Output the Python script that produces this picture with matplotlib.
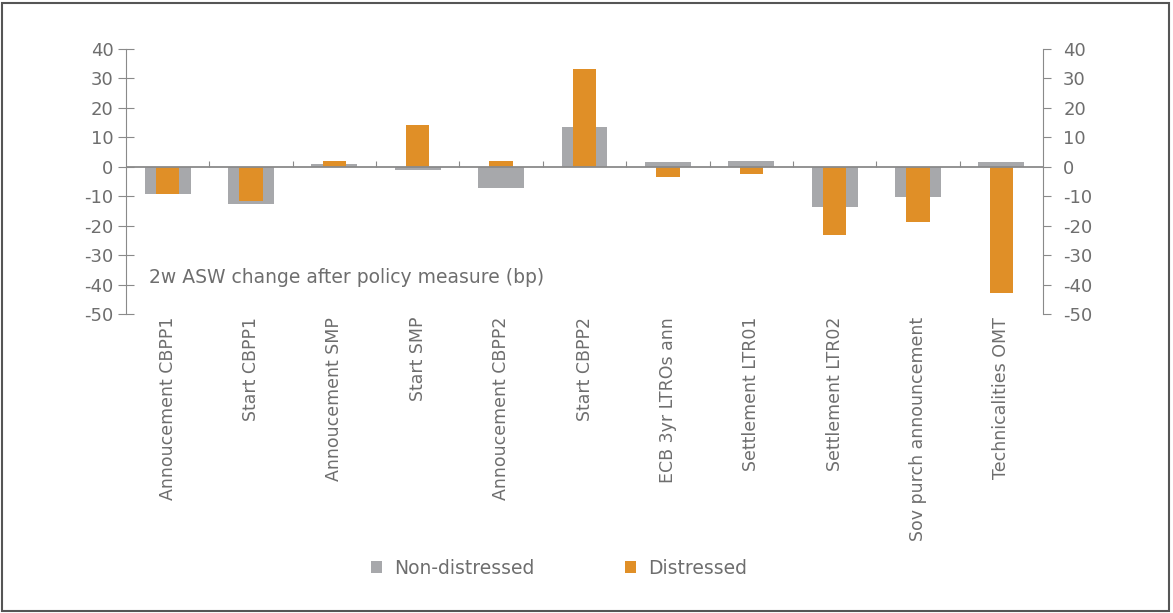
import matplotlib
matplotlib.use("Agg")
import matplotlib.pyplot as plt
from matplotlib.patches import Rectangle
import numpy as np

# policy events and 2w ASW changes (bp)
events = ['Annoucement CBPP1', 'Start CBPP1', 'Annoucement SMP', 'Start SMP',
          'Annoucement CBPP2', 'Start CBPP2', 'ECB 3yr LTROs ann', 'Settlement LTR01',
          'Settlement LTR02', 'Sov purch announcement', 'Technicalities OMT']
non_distressed = [-9.3, -12.6, 0.8, -1.0, -7.1, 13.5, 1.5, 1.8, -13.8, -10.3, 1.6]
distressed = [-9.2, -11.5, 1.9, 14.3, 1.8, 33.3, -3.4, -2.5, -23.1, -18.8, -42.8]

grey = '#a7a8ab'
orange = '#e08f27'
txt = '#6e6e6e'
axc = '#8a8a8a'

plt.rcParams['font.family'] = 'DejaVu Sans'
plt.rcParams['axes.unicode_minus'] = False

fig = plt.figure(figsize=(11.73, 6.13), dpi=100)
ax = fig.add_axes([0.1074, 0.4878, 0.7818, 0.4323])

x = np.arange(len(events))
ax.bar(x, non_distressed, width=0.55, color=grey, label='Non-distressed', zorder=2)
ax.bar(x, distressed, width=0.28, color=orange, label='Distressed', zorder=3)

ax.set_xlim(-0.5, len(events) - 0.5)
ax.set_ylim(-50, 40)
ax.set_yticks(np.arange(-50, 41, 10))

# category labels at the bottom, no ticks there
ax.set_xticks(x)
ax.set_xticklabels(events, rotation=90, color=txt, fontsize=12.5)
ax.tick_params(axis='x', length=0, pad=2)
ax.tick_params(axis='y', direction='inout', length=12, color=axc, labelcolor=txt,
               labelsize=13, pad=3)

for s in ['top', 'right', 'bottom']:
    ax.spines[s].set_visible(False)
ax.spines['left'].set_color(axc)

# zero line with boundary ticks
ax.axhline(0, color=axc, lw=1.3, zorder=4)
zero = ax.secondary_xaxis(50 / 90)
zero.set_xticks(np.arange(0.5, len(events) - 0.5, 1))
zero.tick_params(direction='out', length=4.5, color=axc, labelbottom=False, labeltop=False)
zero.spines['bottom'].set_visible(False)
zero.spines['top'].set_visible(False)

# mirrored scale on the right
ax2 = ax.twinx()
ax2.set_ylim(-50, 40)
ax2.set_yticks(np.arange(-50, 41, 10))
ax2.tick_params(axis='y', direction='out', length=5.5, color=axc, labelcolor=txt,
                labelsize=13, pad=9)
for s in ['top', 'left', 'bottom']:
    ax2.spines[s].set_visible(False)
ax2.spines['right'].set_color(axc)

ax.text(-0.22, -37.5, '2w ASW change after policy measure (bp)', color=txt,
        va='center', ha='left', fontsize=13.5)

fig.legend(loc='center', bbox_to_anchor=(0.4765, 0.0734), ncol=2, frameon=False,
           handlelength=0.6, handleheight=0.6, columnspacing=4.85, handletextpad=0.62,
           labelcolor=txt, fontsize=13.5)

fig.patches.append(Rectangle((0.002, 0.003), 0.995, 0.992, transform=fig.transFigure,
                             fill=False, edgecolor='#555555', lw=1.5))

fig.savefig('out.png', dpi=100)
